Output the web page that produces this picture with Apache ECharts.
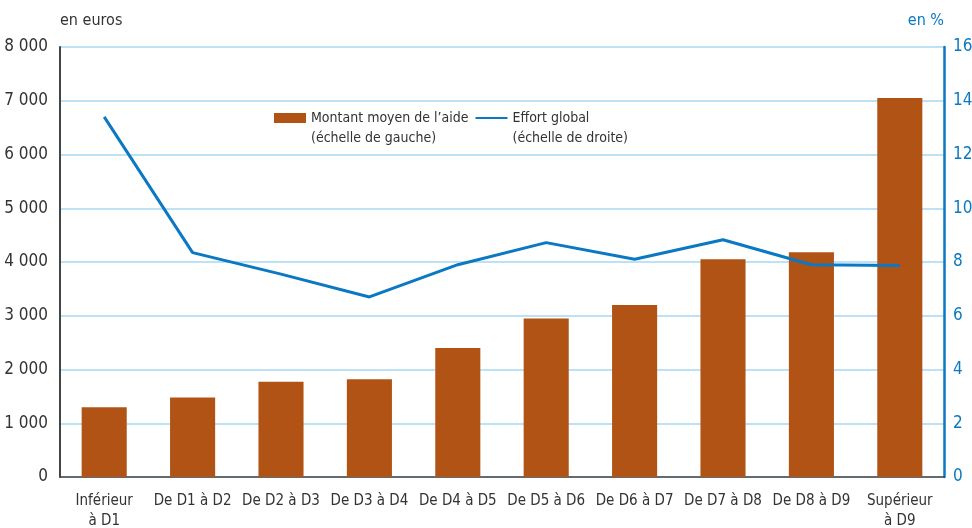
<!DOCTYPE html>
<html>
<head>
<meta charset="utf-8">
<script src="https://cdn.jsdelivr.net/npm/echarts@6/dist/echarts.min.js"></script>
<style>
  html, body { margin: 0; padding: 0; background: #fff; }
  #chart { width: 972px; height: 528px; }
</style>
</head>
<body>
<div id="chart"></div>
<script>
// tranches de niveau de vie
var categories = ['Inférieur\nà D1', 'De D1 à D2', 'De D2 à D3', 'De D3 à D4', 'De D4 à D5',
    'De D5 à D6', 'De D6 à D7', 'De D7 à D8', 'De D8 à D9', 'Supérieur\nà D9'];
// montant moyen de l'aide, en euros (échelle de gauche)
var montant = [1300, 1480, 1770, 1820, 2400, 2950, 3200, 4050, 4180, 7050];
// effort global, en % (échelle de droite)
var effort = [13.4, 8.35, 7.55, 6.7, 7.9, 8.72, 8.1, 8.83, 7.9, 7.87];
var leftTicks = [0, 1000, 2000, 3000, 4000, 5000, 6000, 7000, 8000];
var rightTicks = [0, 2, 4, 6, 8, 10, 12, 14, 16];

var nomBarre = 'Montant moyen de l\u2019aide';
var nomLigne = 'Effort global';
var font = '"DejaVu Sans Condensed", "Liberation Sans", Arial, sans-serif';

var chart = echarts.init(document.getElementById('chart'));
chart.setOption({
    animation: false,
    textStyle: { fontFamily: font },
    grid: { left: 60, right: 28, top: 47, bottom: 51, outerBoundsMode: 'none', containLabel: false },
    legend: {
        left: 274,
        top: 88,
        padding: 0,
        itemGap: 6,
        itemWidth: 32,
        itemHeight: 10,
        data: [
            { name: nomBarre, icon: 'rect' },
            { name: nomLigne, itemStyle: { opacity: 0 } }
        ],
        // ligne vide en tête : le symbole reste aligné sur la première ligne du texte
        formatter: function (name) {
            return ' \n' + name + (name === nomBarre ? '\n(échelle de gauche)' : '\n(échelle de droite)');
        },
        textStyle: { fontFamily: font, fontSize: 14, color: '#333', lineHeight: 20 }
    },
    xAxis: {
        type: 'category',
        data: categories,
        axisLine: { lineStyle: { color: '#444', width: 1.5 } },
        axisTick: { show: false },
        axisLabel: { color: '#333', fontSize: 15, margin: 14, lineHeight: 20, interval: 0 }
    },
    yAxis: [
        {
            type: 'value',
            min: leftTicks[0],
            max: leftTicks[leftTicks.length - 1],
            interval: leftTicks[1] - leftTicks[0],
            name: 'en euros',
            nameLocation: 'end',
            nameGap: 18,
            nameTextStyle: { color: '#333', fontSize: 16, align: 'left' },
            axisLine: { show: true, lineStyle: { color: '#444', width: 2 } },
            axisTick: { show: false },
            splitLine: { lineStyle: { color: '#a9d9f2', width: 1.5 } },
            axisLabel: {
                color: '#333', fontSize: 17, margin: 12,
                formatter: function (v) { return String(v).replace(/\B(?=(\d{3})+(?!\d))/g, ' '); }
            }
        },
        {
            type: 'value',
            min: rightTicks[0],
            max: rightTicks[rightTicks.length - 1],
            interval: rightTicks[1] - rightTicks[0],
            name: 'en %',
            nameLocation: 'end',
            nameGap: 18,
            nameTextStyle: { color: '#0a78c2', fontSize: 16, align: 'right' },
            axisLine: { show: true, lineStyle: { color: '#0a78c2', width: 2.5 } },
            axisTick: { show: false },
            splitLine: { show: false },
            axisLabel: { color: '#0a78c2', fontSize: 17, margin: 9 }
        }
    ],
    series: [
        {
            name: nomBarre,
            type: 'bar',
            yAxisIndex: 0,
            data: montant,
            barWidth: '51%',
            itemStyle: { color: '#b15314' }
        },
        {
            name: nomLigne,
            type: 'line',
            yAxisIndex: 1,
            data: effort,
            symbol: 'none',
            lineStyle: { color: '#0a78c2', width: 3 },
            itemStyle: { color: '#0a78c2' }
        }
    ]
});
</script>
</body>
</html>
